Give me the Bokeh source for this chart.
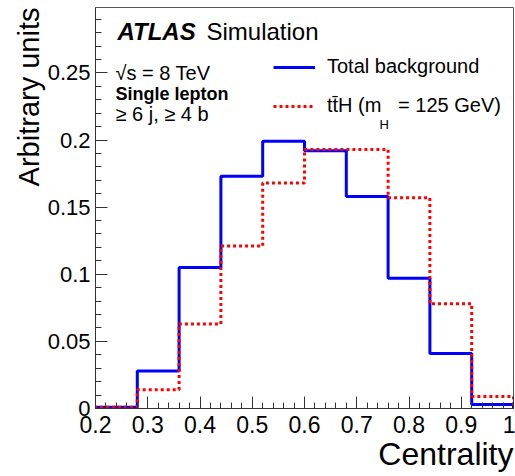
from bokeh.plotting import figure
from bokeh.models import (FixedTicker, CustomJSTickFormatter, Label, Legend,
                          LegendItem, Range1d, Title)
from bokeh.embed import file_html
from bokeh.resources import INLINE

# ---- data ----
bin_edges = [0.2, 0.28, 0.36, 0.44, 0.52, 0.60, 0.68, 0.76, 0.84, 0.92, 1.0]
total_background = [0.001, 0.028, 0.105, 0.173, 0.199, 0.192, 0.158, 0.097, 0.041, 0.003]
tth_signal = [0.001, 0.014, 0.063, 0.121, 0.168, 0.193, 0.193, 0.157, 0.078, 0.009]
x_tick_values = [0.2, 0.3, 0.4, 0.5, 0.6, 0.7, 0.8, 0.9, 1.0]
y_tick_values = [0.0, 0.05, 0.1, 0.15, 0.2, 0.25]
series_labels = ["Total background", "tt\u0304H (m   = 125 GeV)"]

FONT = "Liberation Sans"


def step_path(edges, vals):
    xs, ys = [edges[0]], [0.0]
    for i, v in enumerate(vals):
        xs += [edges[i], edges[i + 1]]
        ys += [v, v]
    xs.append(edges[-1])
    ys.append(0.0)
    return xs, ys


x_minor = [round(0.2 + 0.02 * i, 2) for i in range(41)]
y_minor = [round(0.01 * i, 2) for i in range(30)]

p = figure(width=515, height=476, x_range=Range1d(0.2, 1.0), y_range=Range1d(0, 0.2987),
           output_backend="svg", toolbar_location=None,
           min_border_left=95, min_border_right=2, min_border_top=7, min_border_bottom=68)
p.background_fill_color = "white"
p.border_fill_color = "white"
p.xgrid.visible = False
p.ygrid.visible = False
p.outline_line_color = "#555555"
p.outline_line_width = 1

fmt = CustomJSTickFormatter(code="return String(Math.round(tick*100)/100);")
p.xaxis.ticker = FixedTicker(ticks=x_tick_values, minor_ticks=x_minor)
p.yaxis.ticker = FixedTicker(ticks=y_tick_values, minor_ticks=y_minor)
for ax in (p.xaxis[0], p.yaxis[0]):
    ax.formatter = fmt
    ax.axis_line_color = "#333333"
    ax.major_tick_line_color = "#333333"
    ax.minor_tick_line_color = "#333333"
    ax.major_tick_in = 12
    ax.major_tick_out = 0
    ax.minor_tick_in = 6
    ax.minor_tick_out = 0
    ax.major_label_text_font = FONT
    ax.major_label_text_font_size = "22px"
    ax.major_label_text_color = "black"
p.xaxis.major_label_text_font_size = "23px"
p.xaxis.major_label_standoff = 7
p.yaxis.major_label_standoff = 5

bx, by = step_path(bin_edges, total_background)
sx, sy = step_path(bin_edges, tth_signal)
r_bkg = p.line(bx, by, line_color="#0000ff", line_width=3)
r_sig = p.line(sx, sy, line_color="#ff0000", line_width=3, line_dash="3 3")

for lab, rend, loc in [(series_labels[0], r_bkg, (178, 330)),
                       (series_labels[1], r_sig, (178, 291))]:
    lg = Legend(items=[LegendItem(label=lab, renderers=[rend])], location=loc,
                padding=0, margin=0, border_line_alpha=0, background_fill_alpha=0,
                glyph_width=42, glyph_height=20, label_height=20, label_standoff=12,
                label_text_font=FONT, label_text_font_size="20px", label_text_color="black")
    p.add_layout(lg)


def add_label(text, x, y, size, style="normal"):
    p.add_layout(Label(x=x, y=y, x_units="screen", y_units="screen", text=text,
                       text_font=FONT, text_font_size=size, text_font_style=style,
                       text_align="left", text_baseline="alphabetic", text_color="black"))


# subscript H of m_H
add_label("H", 284, 284, "13px")
add_label("ATLAS", 22, 377, "24px", "bold italic")
add_label("Simulation", 111, 377, "24px")
add_label("\u221As = 8 TeV", 20, 336, "20px")
add_label("Single lepton", 20, 315, "18px", "bold")
add_label("\u2265 6 j, \u2265 4 b", 20, 295, "20px")

p.add_layout(Title(text="Centrality", align="right", text_font=FONT, text_font_size="32px",
                   text_font_style="normal", text_color="black", standoff=-4), "below")
p.add_layout(Title(text="Arbitrary units", align="right", text_font=FONT, text_font_size="29px",
                   text_font_style="normal", text_color="black", standoff=0), "left")

open("out.html", "w").write(file_html(p, INLINE))
